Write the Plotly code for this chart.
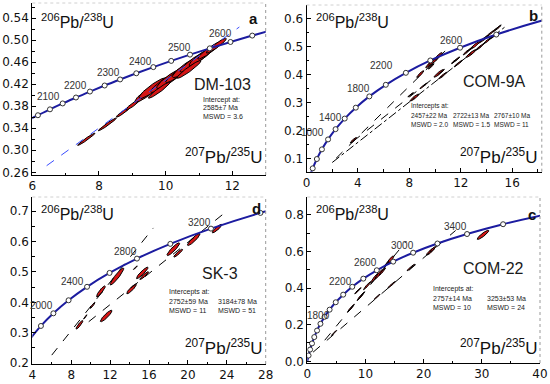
import numpy as np
import plotly.graph_objects as go

# ---------------- Concordia reference points (age in Ma) ----------------
C50_AGE = [1950, 2000, 2050, 2100, 2150, 2200, 2250, 2300, 2350, 2400, 2450, 2500, 2550, 2600, 2650, 2700]
C50_X = [5.824, 6.169, 6.530, 6.911, 7.310, 7.729, 8.170, 8.633, 9.119, 9.630, 10.166, 10.730, 11.322, 11.944, 12.597, 13.283]
C50_Y = [0.3532, 0.3637, 0.3744, 0.3851, 0.3959, 0.4067, 0.4177, 0.4287, 0.4399, 0.4511, 0.4624, 0.4738, 0.4852, 0.4968, 0.5084, 0.5202]

C200_AGE = [0, 200, 400, 600, 800, 1000, 1200, 1400, 1600, 1800, 2000, 2200, 2400, 2600, 2800, 3000, 3200, 3400, 3600, 3800]
C200_X = [0.0, 0.2177, 0.4828, 0.8057, 1.1988, 1.6774, 2.2603, 2.9701, 3.8344, 4.8870, 6.1685, 7.7292, 9.6297, 11.9437,
          14.762, 18.193, 22.371, 27.459, 33.655, 41.199]
C200_Y = [0.0, 0.0315, 0.0640, 0.0975, 0.1321, 0.1678, 0.2046, 0.2426, 0.2817, 0.3221, 0.3637, 0.4067, 0.4511, 0.4968,
          0.5440, 0.5926, 0.6428, 0.6946, 0.7480, 0.8030]

# ---------------- Age labels ----------------
LAB_A = ["2100", "2200", "2300", "2400", "2500", "2600"]
LAB_A_X = [6.50, 7.31, 8.29, 9.25, 10.40, 11.63]
LAB_A_Y = [0.397, 0.418, 0.441, 0.462, 0.486, 0.512]

LAB_B = ["1000", "1400", "1800", "2200", "2600"]
LAB_B_X = [0.45, 1.85, 4.05, 5.85, 11.30]
LAB_B_Y = [0.193, 0.246, 0.349, 0.432, 0.522]

LAB_D = ["2000", "2400", "2800", "3200"]
LAB_D_X = [4.93, 8.15, 13.56, 21.24]
LAB_D_Y = [0.388, 0.470, 0.566, 0.664]

LAB_C = ["1800", "2200", "2600", "3000", "3400"]
LAB_C_X = [2.0, 5.67, 10.0, 16.4, 25.5]
LAB_C_Y = [0.251, 0.438, 0.538, 0.633, 0.735]

# ---------------- Discordia lines: x0, y0, x1, y1 ----------------
DISC_A = [(6.43, 0.272, 12.21, 0.524)]
DISC_B = [(2.3, 0.100, 11.0, 0.495), (3.6, 0.160, 15.3, 0.585), (2.0, 0.085, 15.4, 0.570)]
DISC_B_DASH = ["dash", "dash", "dashdot"]
DISC_D = [(6.0, 0.226, 16.45, 0.645), (9.8, 0.336, 23.6, 0.690)]
DISC_C = [(3.0, 0.115, 17.0, 0.655), (1.0, 0.050, 25.5, 0.714)]

# ---------------- Error ellipses: x, y, sx, sy, rho ----------------
ELL_A_X = [7.62, 8.25, 8.72, 9.02, 9.40, 9.62, 9.95, 10.15, 10.40, 10.62, 10.85, 11.08, 11.30, 11.52, 9.80, 10.70]
ELL_A_Y = [0.320, 0.347, 0.369, 0.383, 0.402, 0.413, 0.423, 0.431, 0.441, 0.451, 0.461, 0.471, 0.481, 0.490, 0.409, 0.447]
ELL_A_SX = [0.26, 0.27, 0.20, 0.22, 0.32, 0.42, 0.40, 0.42, 0.40, 0.42, 0.42, 0.38, 0.34, 0.30, 0.32, 0.36]
ELL_A_SY = [0.0112, 0.0116, 0.0088, 0.0099, 0.0144, 0.0189, 0.0180, 0.0189, 0.0180, 0.0189, 0.0189, 0.0171, 0.0153, 0.0135, 0.0144, 0.0162]
ELL_A_R = [0.975, 0.975, 0.95, 0.94, 0.89, 0.91, 0.92, 0.91, 0.93, 0.91, 0.92, 0.93, 0.93, 0.94, 0.95, 0.95]

ELL_B_X = [3.65, 8.85, 9.55, 9.80, 10.05, 10.25, 9.70, 10.3, 11.6, 12.5, 13.1, 13.8, 14.3, 14.8,
           8.4, 8.1, 9.1, 10.6, 11.8, 12.8, 13.5, 14.1, 14.6]
ELL_B_Y = [0.165, 0.402, 0.437, 0.446, 0.455, 0.466, 0.430, 0.405, 0.452, 0.483, 0.505, 0.528, 0.548, 0.565,
           0.318, 0.328, 0.360, 0.397, 0.440, 0.476, 0.500, 0.523, 0.540]
ELL_B_SX = [0.25, 0.28, 0.28, 0.30, 0.30, 0.30, 0.22, 0.38, 0.32, 0.32, 0.38, 0.38, 0.32, 0.32,
            0.34, 0.22, 0.28, 0.32, 0.32, 0.38, 0.32, 0.32, 0.32]
ELL_B_SY = [0.0100, 0.0125, 0.0125, 0.0135, 0.0135, 0.0135, 0.0100, 0.0140, 0.0118, 0.0118, 0.0138, 0.0138, 0.0118, 0.0118,
            0.0125, 0.0080, 0.0100, 0.0118, 0.0118, 0.0138, 0.0118, 0.0118, 0.0118]
ELL_B_R = [0.92, 0.92, 0.91, 0.91, 0.90, 0.91, 0.95, 0.93, 0.97, 0.96, 0.94, 0.96, 0.97, 0.97,
           0.92, 0.97, 0.97, 0.96, 0.97, 0.93, 0.96, 0.96, 0.97]

ELL_D_X = [8.85, 9.45, 10.2, 11.05, 12.7, 11.6, 14.2, 15.3, 15.5, 14.6, 18.5, 19.0, 20.6, 23.0]
ELL_D_Y = [0.326, 0.352, 0.390, 0.436, 0.485, 0.355, 0.444, 0.497, 0.488, 0.514, 0.575, 0.562, 0.607, 0.643]
ELL_D_SX = [0.35, 0.18, 0.25, 0.45, 0.70, 0.60, 0.50, 0.60, 0.45, 0.20, 0.65, 0.45, 0.65, 0.50]
ELL_D_SY = [0.014, 0.007, 0.010, 0.018, 0.028, 0.019, 0.016, 0.019, 0.013, 0.006, 0.021, 0.013, 0.020, 0.014]
ELL_D_R = [0.90, 0.95, 0.94, 0.90, 0.93, 0.90, 0.90, 0.92, 0.93, 0.95, 0.91, 0.92, 0.91, 0.90]

ELL_C_X = [4.6, 12.0, 14.5, 17.8, 21.2, 21.6, 30.2, 7.5, 9.2, 8.7, 10.3, 11.6, 12.3, 12.9, 14.2, 13.6]
ELL_C_Y = [0.155, 0.352, 0.418, 0.512, 0.600, 0.612, 0.690, 0.290, 0.355, 0.385, 0.413, 0.455, 0.475, 0.490, 0.550, 0.530]
ELL_C_SX = [0.45, 0.50, 0.65, 0.65, 0.70, 0.55, 1.00, 0.60, 0.65, 0.55, 0.65, 0.65, 0.65, 0.55, 0.65, 0.45]
ELL_C_SY = [0.014, 0.014, 0.018, 0.018, 0.020, 0.016, 0.025, 0.022, 0.024, 0.017, 0.022, 0.025, 0.025, 0.020, 0.025, 0.017]
ELL_C_R = [0.97, 0.97, 0.97, 0.97, 0.90, 0.93, 0.90, 0.97, 0.97, 0.97, 0.96, 0.93, 0.93, 0.95, 0.91, 0.95]

# ---------------- Figure ----------------
NAVY = "#1c1ca0"
RED = "#d41515"
fig = go.Figure()

def sub(i):
    return ("x" if i == 1 else f"x{i}"), ("y" if i == 1 else f"y{i}")

def add_ellipses(i, X, Y, SX, SY, R):
    xa, ya = sub(i)
    t = np.linspace(0, 2 * np.pi, 72)
    for cx, cy, sx, sy, r in zip(X, Y, SX, SY, R):
        ex = cx + sx * np.cos(t)
        ey = cy + sy * (r * np.cos(t) + np.sqrt(1 - r * r) * np.sin(t))
        fig.add_trace(go.Scatter(x=ex, y=ey, mode="lines", fill="toself", fillcolor=RED,
                                 line=dict(color="black", width=1), xaxis=xa, yaxis=ya,
                                 hoverinfo="skip", showlegend=False))

def add_lines(i, lines, dashes, color="black"):
    xa, ya = sub(i)
    for (x0, y0, x1, y1), d in zip(lines, dashes):
        fig.add_trace(go.Scatter(x=[x0, x1], y=[y0, y1], mode="lines",
                                 line=dict(color=color, width=1, dash=d), xaxis=xa, yaxis=ya,
                                 hoverinfo="skip", showlegend=False))

def add_concordia(i, ages, xs, ys, a0, a1, m0, m1):
    xa, ya = sub(i)
    cx = [x for a, x in zip(ages, xs) if a0 <= a <= a1]
    cy = [y for a, y in zip(ages, ys) if a0 <= a <= a1]
    fig.add_trace(go.Scatter(x=cx, y=cy, mode="lines", line=dict(color=NAVY, width=2, shape="spline"),
                             xaxis=xa, yaxis=ya, hoverinfo="skip", showlegend=False))
    mx = [x for a, x in zip(ages, xs) if m0 <= a <= m1]
    my = [y for a, y in zip(ages, ys) if m0 <= a <= m1]
    fig.add_trace(go.Scatter(x=mx, y=my, mode="markers",
                             marker=dict(symbol="circle", size=5, color="white", line=dict(color="#333", width=1)),
                             xaxis=xa, yaxis=ya, hoverinfo="skip", showlegend=False, cliponaxis=True))

# Panel a
add_ellipses(1, ELL_A_X, ELL_A_Y, ELL_A_SX, ELL_A_SY, ELL_A_R)
add_lines(1, DISC_A, ["dash"], color="#3a4dff")
add_concordia(1, C50_AGE, C50_X, C50_Y, 1950, 2700, 2000, 2650)
# Panel b
add_ellipses(2, ELL_B_X, ELL_B_Y, ELL_B_SX, ELL_B_SY, ELL_B_R)
add_lines(2, DISC_B, DISC_B_DASH)
add_concordia(2, C200_AGE, C200_X, C200_Y, 0, 3200, 400, 2800)
# Panel d
add_ellipses(3, ELL_D_X, ELL_D_Y, ELL_D_SX, ELL_D_SY, ELL_D_R)
add_lines(3, DISC_D, ["dash", "dash"])
add_concordia(3, C200_AGE, C200_X, C200_Y, 1600, 3600, 1800, 3400)
# Panel c
add_ellipses(4, ELL_C_X, ELL_C_Y, ELL_C_SX, ELL_C_SY, ELL_C_R)
add_lines(4, DISC_C, ["dash", "dash"])
add_concordia(4, C200_AGE, C200_X, C200_Y, 0, 3800, 200, 3600)

# ---------------- Axes ----------------
TICKFONT = dict(family="DejaVu Sans", size=12, color="#111")

def axis(domain, rng, dtick, tick0, minor, fmt=None, anchor=None):
    d = dict(domain=domain, range=rng, dtick=dtick, tick0=tick0, showgrid=False, zeroline=False,
             showline=True, linecolor="black", linewidth=1, ticks="inside", ticklen=4, tickcolor="black",
             tickfont=TICKFONT, minor=dict(dtick=minor, ticks="inside", ticklen=2.5, tickcolor="black"),
             anchor=anchor, fixedrange=True, automargin=False)
    if fmt:
        d["tickformat"] = fmt
    return d

XA = [32.3 / 550, 265.7 / 550]
XB = [306.5 / 550, 541.8 / 550]
XC = [307.3 / 550, 540.0 / 550]

fig.update_layout(
    xaxis=axis(XA, [6, 13], 2, 6, 1, anchor="y"),
    yaxis=axis([1 - 175 / 384, 1 - 3 / 384], [0.2551, 0.5676], 0.04, 0.26, 0.02, ".2f", anchor="x"),
    xaxis2=axis(XB, [0, 18.3], 4, 0, 2, anchor="y2"),
    yaxis2=axis([1 - 171.7 / 384, 1 - 5 / 384], [0.052, 0.650], 0.1, 0.1, 0.05, ".1f", anchor="x2"),
    xaxis3=axis(XA, [4, 28], 4, 4, 2, anchor="y3"),
    yaxis3=axis([1 - 364 / 384, 1 - 197 / 384], [0.1967, 0.747], 0.1, 0.2, 0.05, ".1f", anchor="x3"),
    xaxis4=axis(XC, [0, 40], 10, 0, 5, anchor="y4"),
    yaxis4=axis([1 - 363 / 384, 1 - 197 / 384], [-0.0093, 0.8966], 0.2, 0.0, 0.1, ".1f", anchor="x4"),
)

# dotted right frame (and faint top)
shapes = []
for i in range(1, 5):
    xa, ya = sub(i)
    shapes.append(dict(type="line", xref=f"{xa} domain", yref=f"{ya} domain", x0=1, x1=1, y0=0, y1=1,
                       line=dict(color="#999", width=1, dash="dot")))
    shapes.append(dict(type="line", xref=f"{xa} domain", yref=f"{ya} domain", x0=0, x1=1, y0=1, y1=1,
                       line=dict(color="#d0d0d0", width=1, dash="dot")))

# ---------------- Text ----------------
ann = []
AGEFONT = dict(family="Liberation Sans, Arial", size=10, color="#333")

def put(i, x, y, text, font, xanchor="center", yanchor="middle"):
    xa, ya = sub(i)
    ann.append(dict(xref=xa, yref=ya, x=x, y=y, text=text, showarrow=False, font=font,
                    xanchor=xanchor, yanchor=yanchor))

for i, (L, X, Y) in enumerate([(LAB_A, LAB_A_X, LAB_A_Y), (LAB_B, LAB_B_X, LAB_B_Y),
                                (LAB_D, LAB_D_X, LAB_D_Y), (LAB_C, LAB_C_X, LAB_C_Y)], start=1):
    for t, x, y in zip(L, X, Y):
        put(i, x, y, t, AGEFONT)

NAMEFONT = dict(family="Liberation Sans, Arial", size=16, color="#1a1a1a")
put(1, 11.7, 0.420, "DM-103", NAMEFONT)
put(2, 14.6, 0.377, "COM-9A", NAMEFONT)
put(3, 23.3, 0.494, "SK-3", NAMEFONT)
put(4, 32.0, 0.505, "COM-22", NAMEFONT)

SMALL = dict(family="Liberation Sans, Arial", size=7, color="#222")
SMALLB = dict(family="Liberation Sans, Arial", size=6.5, color="#222")
def block(i, x, ys, lines, font=SMALL):
    for y, t in zip(ys, lines):
        put(i, x, y, t, font, xanchor="left")

block(1, 11.06, [0.392, 0.377, 0.362], ["Intercept at:", "2585±7 Ma", "MSWD = 3.6"])
block(2, 7.95, [0.288, 0.255, 0.223], ["Intercepts at:", "2457±22 Ma", "MSWD = 2.0"], SMALLB)
block(2, 11.2, [0.255, 0.223], ["2722±13 Ma", "MSWD = 1.5"], SMALLB)
block(2, 14.45, [0.255, 0.223], ["2767±10 Ma", "MSWD = 11"], SMALLB)
block(3, 17.9, [0.434, 0.403, 0.373], ["Intercepts at:", "2752±59 Ma", "MSWD = 11"])
block(3, 22.9, [0.403, 0.373], ["3184±78 Ma", "MSWD = 51"])
block(4, 21.2, [0.396, 0.345, 0.296], ["Intercepts at:", "2757±14 Ma", "MSWD = 10"])
block(4, 30.6, [0.345, 0.296], ["3253±53 Ma", "MSWD = 24"])

TOPLAB = dict(family="Liberation Sans, Arial", size=16, color="#111")
BOTLAB = dict(family="Liberation Sans, Arial", size=17, color="#111")
top_txt = "<sup>206</sup>Pb/<sup>238</sup>U"
bot_txt = "<sup>207</sup>Pb/<sup>235</sup>U"
for (px, py) in [(39.3, 20.7), (314.3, 21.0), (39.3, 212.7), (314.3, 212.7)]:
    ann.append(dict(xref="paper", yref="paper", x=px / 550, y=1 - py / 384, text=top_txt, showarrow=False,
                    font=TOPLAB, xanchor="left", yanchor="middle"))
for (px, py) in [(183.3, 155.7), (457.7, 155.7), (183.3, 347.0), (458.3, 347.0)]:
    ann.append(dict(xref="paper", yref="paper", x=px / 550, y=1 - py / 384, text=bot_txt, showarrow=False,
                    font=BOTLAB, xanchor="left", yanchor="middle"))

LETTER = dict(family="Liberation Sans, Arial", size=15, color="#111")
for (lt, px, py) in [("a", 253, 18), ("b", 533, 15.5), ("d", 256.7, 208.7), ("c", 531.7, 214.5)]:
    ann.append(dict(xref="paper", yref="paper", x=px / 550, y=1 - py / 384, text=f"<b>{lt}</b>",
                    showarrow=False, font=LETTER, xanchor="center", yanchor="middle"))

fig.update_layout(width=550, height=384, margin=dict(l=0, r=0, t=0, b=0, autoexpand=False), paper_bgcolor="white",
                  plot_bgcolor="white", showlegend=False, annotations=ann, shapes=shapes, hovermode=False)

fig.write_html("out.html", config={"displayModeBar": False, "staticPlot": True},
               post_script="document.body.style.margin='0px';document.body.style.padding='0px';")
